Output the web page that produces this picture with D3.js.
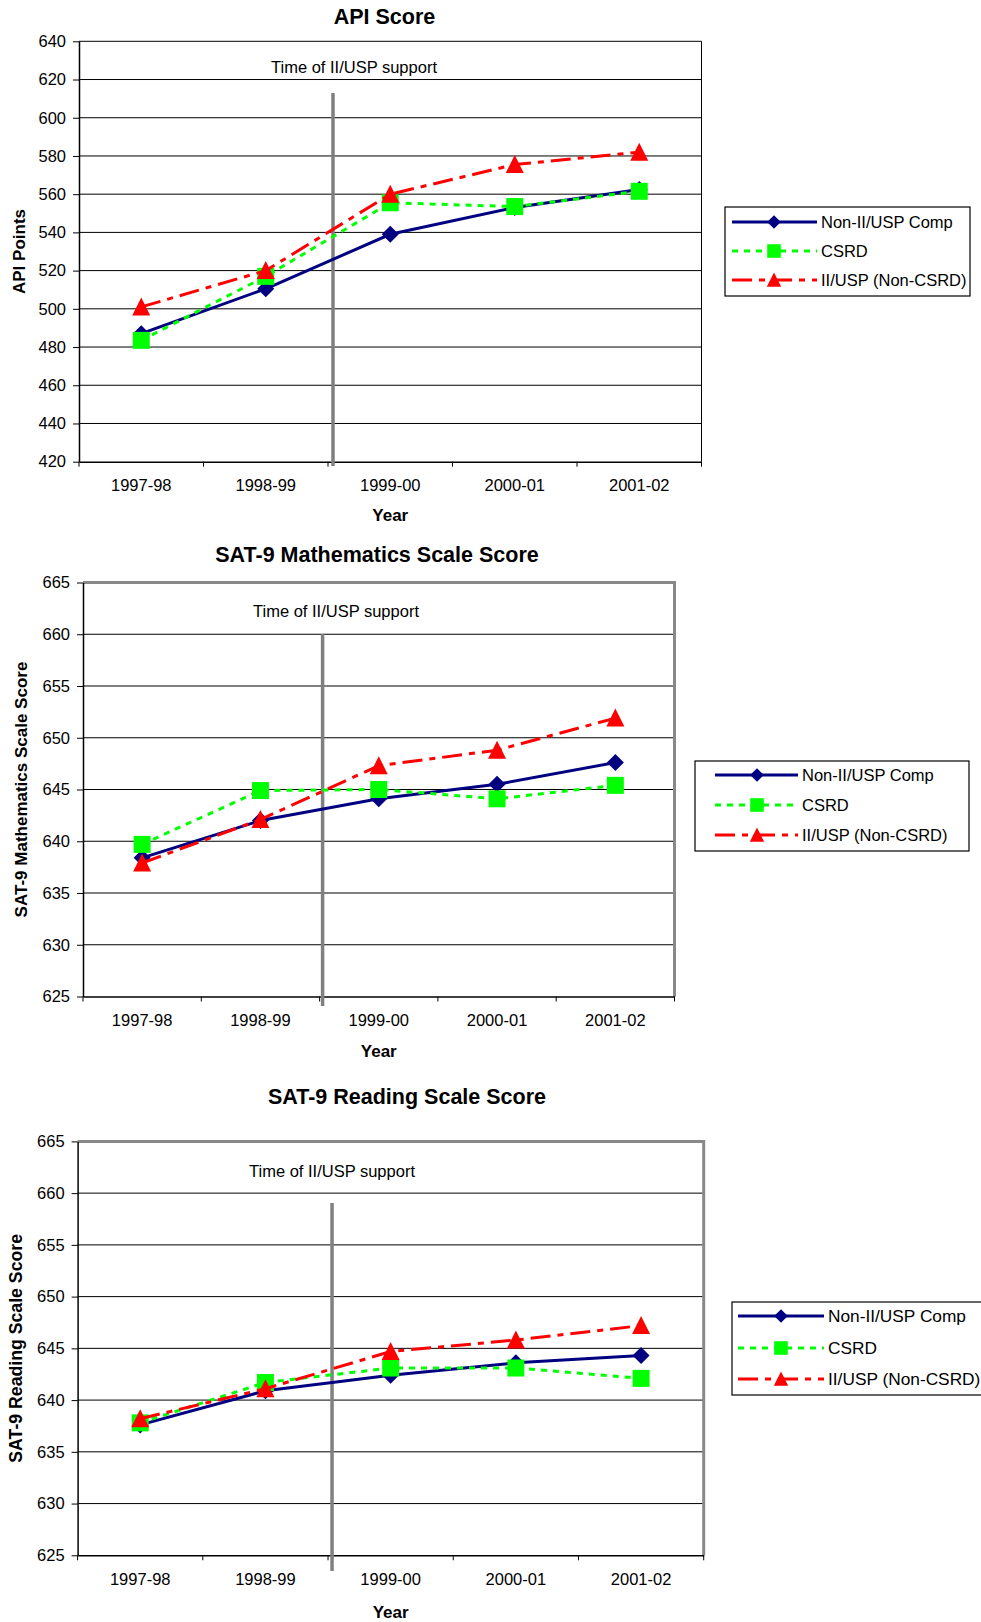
<!DOCTYPE html>
<html>
<head>
<meta charset="utf-8">
<script src="https://cdnjs.cloudflare.com/ajax/libs/d3/7.8.5/d3.min.js"></script>
<style>
  body { margin: 0; background: #fff; }
  svg text { font-family: Arial, "Liberation Sans", sans-serif; fill: #000; }
</style>
</head>
<body>
<script>
// *** data
var years = ["1997-98", "1998-99", "1999-00", "2000-01", "2001-02"];
var seriesNames = ["Non-II/USP Comp", "CSRD", "II/USP (Non-CSRD)"];

var apiTicks = [420, 440, 460, 480, 500, 520, 540, 560, 580, 600, 620, 640];
var satTicks = [625, 630, 635, 640, 645, 650, 655, 660, 665];

var apiNonComp = [487, 510.5, 539, 553, 562.5];
var apiCsrd    = [483.5, 517, 555.5, 553.5, 561.5];
var apiIiusp   = [501, 520, 560, 575.5, 582];

var mathNonComp = [638.4, 642, 644.1, 645.5, 647.6];
var mathCsrd    = [639.7, 644.9, 645, 644.1, 645.4];
var mathIiusp   = [637.9, 642.1, 647.3, 648.8, 651.9];

var readNonComp = [637.6, 640.9, 642.4, 643.6, 644.3];
var readCsrd    = [637.8, 641.7, 643.1, 643.1, 642.1];
var readIiusp   = [638.2, 641.1, 644.7, 645.8, 647.2];

// *** series styles
var styles = [
  { color: "#000080", dash: null,       shape: "M0,-8.5L8.5,0L0,8.5L-8.5,0Z" },
  { color: "#00ff00", dash: "6,6",      shape: "M-8.5,-8.5h17v17h-17Z" },
  { color: "#ff0000", dash: "20,7,6,7", shape: "M0,-9.5L9,8.5L-9,8.5Z" }
];

var svg = d3.select("body").append("svg")
  .attr("width", 981)
  .attr("height", 1622);

function drawChart(c) {
  var g = svg.append("g");
  var x = d3.scaleBand().domain(years).range([c.left, c.right]);
  var bw = x.bandwidth();
  var y = d3.scaleLinear()
    .domain([c.ticks[0], c.ticks[c.ticks.length - 1]])
    .range([c.bottom, c.top]);

  // gridlines
  g.selectAll("line.grid").data(c.ticks.slice(1, -1)).enter().append("line")
    .attr("class", "grid")
    .attr("x1", c.left).attr("x2", c.right)
    .attr("y1", function(d){ return y(d); })
    .attr("y2", function(d){ return y(d); })
    .attr("stroke", "#000").attr("stroke-width", 1);

  // top + right frame
  g.append("path")
    .attr("d", "M" + c.left + "," + c.top + "H" + c.right + "V" + c.bottom)
    .attr("fill", "none")
    .attr("stroke", c.frameColor)
    .attr("stroke-width", c.frameWidth);

  // y axis
  var yAxis = d3.axisLeft(y).tickValues(c.ticks).tickSize(6).tickSizeOuter(0).tickPadding(7);
  var ya = g.append("g").attr("transform", "translate(" + c.left + ",0)").call(yAxis);
  ya.select(".domain").attr("stroke", "#000").attr("stroke-width", 1.5);
  ya.selectAll("text").style("font-size", "16.5px").attr("fill", "#000");

  // x axis (labels centred in each category, ticks at the boundaries)
  var xAxis = d3.axisBottom(x).tickSize(0).tickSizeOuter(0).tickPadding(18);
  var xa = g.append("g").attr("transform", "translate(0," + c.bottom + ")").call(xAxis);
  xa.select(".domain").attr("stroke", "#000").attr("stroke-width", 1.5);
  xa.selectAll("text").style("font-size", "16.5px").attr("fill", "#000");
  var bounds = years.map(function(d){ return x(d); }).concat([c.right]);
  g.selectAll("line.xtick").data(bounds).enter().append("line")
    .attr("class", "xtick")
    .attr("x1", function(d){ return d; }).attr("x2", function(d){ return d; })
    .attr("y1", c.bottom).attr("y2", c.bottom + 5)
    .attr("stroke", "#000").attr("stroke-width", 1);

  // support marker line + note
  var vx = x(years[2]) + c.vOff;
  g.append("line")
    .attr("x1", vx).attr("x2", vx)
    .attr("y1", c.vTop).attr("y2", c.vBottom)
    .attr("stroke", "#808080").attr("stroke-width", 3.5);
  g.append("text")
    .attr("x", c.noteX).attr("y", c.noteY)
    .attr("text-anchor", "middle")
    .style("font-size", "16.5px")
    .text("Time of II/USP support");

  // series
  var line = d3.line()
    .x(function(d, i){ return x(years[i]) + bw / 2; })
    .y(function(d){ return y(d); });

  c.series.forEach(function(vals, si){
    var st = styles[si];
    g.append("path")
      .attr("d", line(vals))
      .attr("fill", "none")
      .attr("stroke", st.color)
      .attr("stroke-width", 3)
      .attr("stroke-dasharray", st.dash);
    g.selectAll("path.m" + si).data(vals).enter().append("path")
      .attr("class", "m" + si)
      .attr("d", st.shape)
      .attr("fill", st.color)
      .attr("transform", function(d, i){
        return "translate(" + (x(years[i]) + bw / 2) + "," + y(d) + ")";
      });
  });

  // titles
  g.append("text")
    .attr("x", c.titleX).attr("y", c.titleY)
    .attr("text-anchor", "middle")
    .style("font-size", "21.5px").style("font-weight", "bold")
    .text(c.title);
  g.append("text")
    .attr("x", (c.left + c.right) / 2).attr("y", c.yearY)
    .attr("text-anchor", "middle")
    .style("font-size", "17px").style("font-weight", "bold")
    .text("Year");
  g.append("text")
    .attr("transform", "translate(" + c.ylabX + "," + ((c.top + c.bottom) / 2) + ") rotate(-90)")
    .attr("text-anchor", "middle")
    .style("font-size", c.ylabSize).style("font-weight", "bold")
    .text(c.ylabel);

  // legend
  var L = c.legend;
  g.append("rect")
    .attr("x", L.x).attr("y", L.y).attr("width", L.w).attr("height", L.h)
    .attr("fill", "#fff").attr("stroke", "#000").attr("stroke-width", 1.2);
  seriesNames.forEach(function(name, si){
    var st = styles[si];
    var ry = L.rows[si];
    g.append("line")
      .attr("x1", L.lx1).attr("x2", L.lx2).attr("y1", ry).attr("y2", ry)
      .attr("stroke", st.color).attr("stroke-width", 3)
      .attr("stroke-dasharray", st.dash);
    g.append("path")
      .attr("d", st.shape)
      .attr("fill", st.color)
      .attr("transform", "translate(" + L.mx + "," + ry + ") scale(0.8)");
    g.append("text")
      .attr("x", L.tx).attr("y", ry).attr("dy", "0.35em")
      .style("font-size", L.size)
      .text(name);
  });
}

drawChart({
  title: "API Score", titleX: 384.5, titleY: 24,
  ylabel: "API Points", ylabX: 24.5, ylabSize: "17px",
  left: 79, right: 701.5, top: 41.3, bottom: 461.7,
  ticks: apiTicks,
  frameColor: "#000", frameWidth: 1,
  vOff: 5, vTop: 93, vBottom: 466,
  noteX: 354, noteY: 72.5,
  yearY: 521,
  series: [apiNonComp, apiCsrd, apiIiusp],
  legend: { x: 725, y: 207, w: 245, h: 89, rows: [222, 251, 280], lx1: 732, lx2: 817, mx: 774, tx: 821, size: "16.5px" }
});

drawChart({
  title: "SAT-9 Mathematics Scale Score", titleX: 377, titleY: 562,
  ylabel: "SAT-9 Mathematics Scale Score", ylabX: 26.5, ylabSize: "17px",
  left: 83, right: 674.5, top: 582.5, bottom: 996.5,
  ticks: satTicks,
  frameColor: "#888", frameWidth: 3,
  vOff: 3, vTop: 634, vBottom: 1006,
  noteX: 336, noteY: 616.5,
  yearY: 1057,
  series: [mathNonComp, mathCsrd, mathIiusp],
  legend: { x: 695, y: 761, w: 274, h: 90, rows: [775, 805, 835], lx1: 715, lx2: 798, mx: 757, tx: 802, size: "16.5px" }
});

drawChart({
  title: "SAT-9 Reading Scale Score", titleX: 407, titleY: 1104,
  ylabel: "SAT-9 Reading Scale Score", ylabX: 22, ylabSize: "17.7px",
  left: 77.6, right: 703.7, top: 1141.4, bottom: 1555.3,
  ticks: satTicks,
  frameColor: "#888", frameWidth: 3,
  vOff: 4, vTop: 1203, vBottom: 1571,
  noteX: 332, noteY: 1176.5,
  yearY: 1618,
  series: [readNonComp, readCsrd, readIiusp],
  legend: { x: 732, y: 1302, w: 262, h: 93, rows: [1316, 1348, 1379], lx1: 738, lx2: 824, mx: 781, tx: 828, size: "17.3px" }
});
</script>
</body>
</html>
